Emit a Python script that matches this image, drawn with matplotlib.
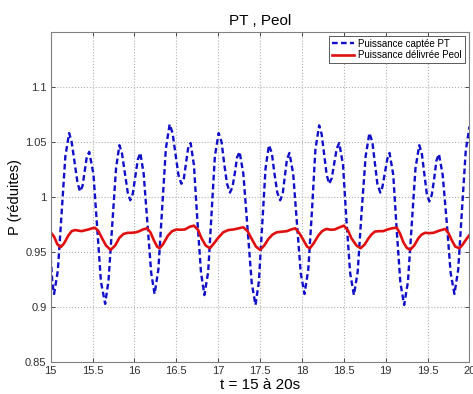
#-----------------------------------------------------------------------------------------------
# PT , Peol : captured power vs delivered power, t = 15 to 20 s (reduced units)
#-----------------------------------------------------------------------------------------------

import numpy as np
import matplotlib
matplotlib.use('Agg')
import matplotlib.pyplot as plt

plt.rcParams['font.family'] = ['Liberation Sans', 'DejaVu Sans']


# Captured power PT (blue dashed)
t_pt = [15.00, 15.02, 15.04, 15.085, 15.13, 15.175, 15.22, 15.25, 15.285, 15.32, 15.35,
        15.38, 15.405, 15.43, 15.46, 15.51, 15.555, 15.60, 15.65, 15.69, 15.735, 15.78,
        15.82, 15.85, 15.885, 15.92, 15.95, 15.98, 16.01, 16.04, 16.07, 16.11, 16.155,
        16.20, 16.24, 16.285, 16.33, 16.375, 16.42, 16.455, 16.49, 16.525, 16.56, 16.59,
        16.615, 16.64, 16.67, 16.71, 16.75, 16.795, 16.835, 16.88, 16.92, 16.96, 17.005,
        17.04, 17.07, 17.105, 17.14, 17.17, 17.20, 17.225, 17.255, 17.30, 17.35, 17.40,
        17.445, 17.485, 17.525, 17.565, 17.605, 17.64, 17.67, 17.705, 17.74, 17.77, 17.795,
        17.82, 17.85, 17.895, 17.94, 17.985, 18.03, 18.075, 18.12, 18.16, 18.205, 18.235,
        18.265, 18.295, 18.325, 18.355, 18.385, 18.415, 18.445, 18.49, 18.53, 18.575, 18.62,
        18.665, 18.71, 18.76, 18.805, 18.84, 18.87, 18.90, 18.935, 18.96, 18.99, 19.02,
        19.045, 19.09, 19.13, 19.175, 19.22, 19.265, 19.31, 19.355, 19.40, 19.43, 19.46,
        19.49, 19.52, 19.55, 19.58, 19.605, 19.635, 19.68, 19.73, 19.775, 19.82, 19.865,
        19.91, 19.955, 20.00]
p_pt = [0.945, 0.922, 0.912, 0.933, 0.985, 1.037, 1.058, 1.050, 1.0315, 1.013, 1.005,
        1.010, 1.023, 1.036, 1.041, 1.021, 0.972, 0.923, 0.903, 0.924, 0.975, 1.026,
        1.047, 1.040, 1.022, 1.004, 0.997, 1.003, 1.0185, 1.034, 1.040, 1.021, 0.976,
        0.931, 0.912, 0.934, 0.989, 1.044, 1.066, 1.058, 1.039, 1.020, 1.012, 1.017,
        1.0305, 1.044, 1.049, 1.029, 0.980, 0.931, 0.911, 0.932, 0.9845, 1.037, 1.058,
        1.050, 1.031, 1.012, 1.004, 1.009, 1.0225, 1.036, 1.041, 1.021, 0.9715, 0.922,
        0.902, 0.923, 0.9745, 1.026, 1.047, 1.040, 1.022, 1.004, 0.997, 1.003, 1.0185,
        1.034, 1.040, 1.021, 0.976, 0.931, 0.912, 0.934, 0.9885, 1.043, 1.065, 1.057,
        1.0385, 1.020, 1.012, 1.017, 1.0305, 1.044, 1.049, 1.029, 0.980, 0.931, 0.911,
        0.932, 0.9845, 1.037, 1.058, 1.050, 1.031, 1.012, 1.004, 1.009, 1.022, 1.035,
        1.040, 1.020, 0.971, 0.922, 0.902, 0.923, 0.9745, 1.026, 1.047, 1.040, 1.0215,
        1.003, 0.996, 1.002, 1.0175, 1.033, 1.039, 1.020, 0.9755, 0.931, 0.912, 0.934,
        0.988, 1.042, 1.064]

# Delivered power Peol (red solid)
t_peol = [15.00, 15.04, 15.08, 15.12, 15.16, 15.21, 15.25, 15.29, 15.33, 15.37, 15.41,
          15.45, 15.49, 15.53, 15.57, 15.61, 15.66, 15.715, 15.77, 15.82, 15.87, 15.92,
          15.97, 16.02, 16.06, 16.10, 16.15, 16.19, 16.23, 16.27, 16.30, 16.34, 16.40,
          16.45, 16.50, 16.55, 16.60, 16.66, 16.71, 16.76, 16.80, 16.85, 16.90, 16.95,
          17.00, 17.06, 17.12, 17.18, 17.24, 17.30, 17.35, 17.40, 17.45, 17.50, 17.55,
          17.60, 17.65, 17.70, 17.76, 17.82, 17.87, 17.92, 17.97, 18.02, 18.06, 18.095,
          18.14, 18.195, 18.24, 18.29, 18.34, 18.39, 18.45, 18.50, 18.55, 18.59, 18.65,
          18.70, 18.75, 18.79, 18.83, 18.87, 18.92, 18.97, 19.02, 19.07, 19.13, 19.17,
          19.21, 19.25, 19.29, 19.34, 19.39, 19.43, 19.47, 19.52, 19.57, 19.64, 19.71,
          19.75, 19.79, 19.83, 19.88, 19.92, 19.96, 20.00]
p_peol = [0.968, 0.964, 0.957, 0.9545, 0.958, 0.965, 0.969, 0.970, 0.9695, 0.969, 0.9698,
          0.9705, 0.9715, 0.972, 0.969, 0.963, 0.956, 0.952, 0.956, 0.963, 0.9665, 0.9675,
          0.9675, 0.968, 0.969, 0.9705, 0.9716, 0.968, 0.961, 0.955, 0.9535, 0.957, 0.965,
          0.969, 0.9705, 0.9703, 0.9705, 0.973, 0.974, 0.970, 0.9626, 0.956, 0.9535, 0.958,
          0.963, 0.968, 0.970, 0.9705, 0.9715, 0.9725, 0.969, 0.962, 0.955, 0.952, 0.956,
          0.962, 0.966, 0.968, 0.9685, 0.969, 0.9705, 0.9716, 0.967, 0.9605, 0.955, 0.9535,
          0.958, 0.965, 0.969, 0.971, 0.9703, 0.9705, 0.9725, 0.974, 0.9695, 0.9626, 0.956,
          0.9535, 0.957, 0.962, 0.966, 0.9686, 0.969, 0.969, 0.9705, 0.9715, 0.9722, 0.967,
          0.959, 0.954, 0.952, 0.956, 0.9626, 0.966, 0.9675, 0.9672, 0.9675, 0.9695, 0.971,
          0.967, 0.9605, 0.955, 0.9535, 0.957, 0.9615, 0.9656]

x_ticks = [15, 15.5, 16, 16.5, 17, 17.5, 18, 18.5, 19, 19.5, 20]
x_labels = ['15', '15.5', '16', '16.5', '17', '17.5', '18', '18.5', '19', '19.5', '20']
y_ticks = [0.85, 0.9, 0.95, 1, 1.05, 1.1]
y_labels = ['0.85', '0.9', '0.95', '1', '1.05', '1.1']


#Create figure (473 x 394 px)
fig = plt.figure(figsize=(4.73, 3.94), dpi=100)
ax = fig.add_axes([0.1072, 0.0805, 0.8854, 0.839])

#Plot both powers
ax.plot(t_pt, p_pt, color='#1010c8', lw=1.7, dashes=(2.4, 1.4), label='Puissance captée PT')
ax.plot(t_peol, p_peol, color='#e01010', lw=1.9, label='Puissance délivrée Peol')

#Axes limits and ticks
ax.set_xlim(15, 20)
ax.set_ylim(0.85, 1.15)
ax.set_xticks(x_ticks)
ax.set_xticklabels(x_labels)
ax.set_yticks(y_ticks)
ax.set_yticklabels(y_labels)
ax.tick_params(direction='in', length=3, width=0.6, labelsize=8, colors='#303030',
               top=True, right=True, pad=3)
for s in ax.spines.values():
    s.set_color('#808080')
    s.set_linewidth(0.8)

#Dotted grid
ax.grid(True, linestyle=':', color='#b0b0b0', lw=0.8)

#Texts
ax.set_title('PT , Peol', fontsize=11, pad=5)
ax.set_xlabel('t = 15 à 20s', fontsize=11, labelpad=1)
ax.set_ylabel('P (réduites)', fontsize=10.5, labelpad=2)

#Legend
leg = ax.legend(loc='upper right', bbox_to_anchor=(0.989, 0.988), borderaxespad=0,
                fontsize=7, fancybox=False, framealpha=1, edgecolor='#404040',
                handlelength=2.2, borderpad=0.3, labelspacing=0.15, handletextpad=0.5)
leg.get_frame().set_linewidth(0.6)

fig.savefig('out.png', dpi=100)
